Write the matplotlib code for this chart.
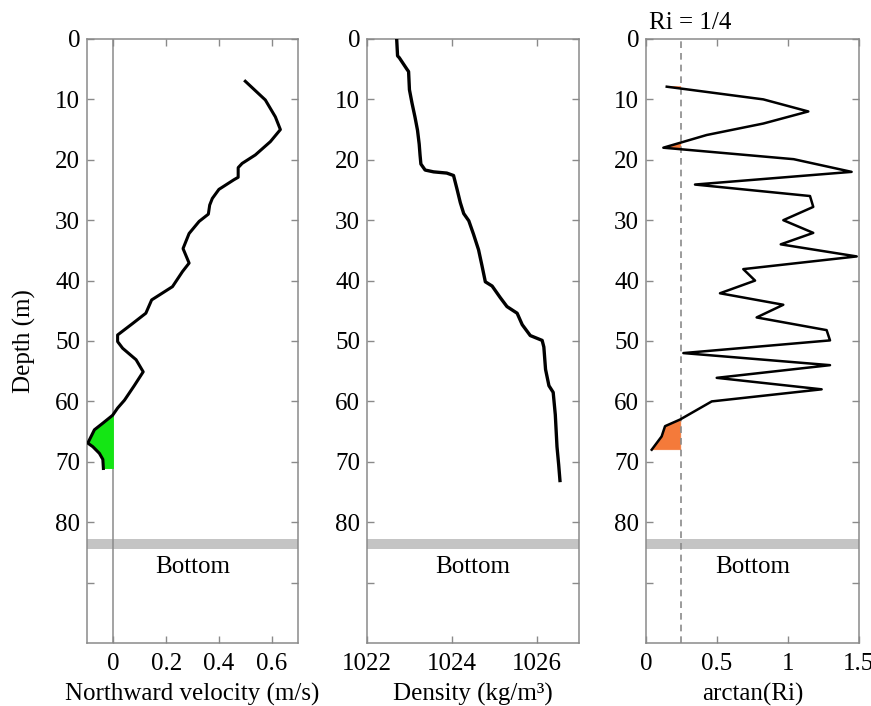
import numpy as np
import matplotlib
matplotlib.use("Agg")
import matplotlib.pyplot as plt

plt.rcParams['font.family'] = ['Liberation Serif', 'DejaVu Serif']
plt.rcParams['font.size'] = 18

# northward velocity profile
vel_depth = [7, 10.1, 12.9, 15.0, 17, 19.2, 20.6, 21.3, 22.9, 23.3, 24.9, 26.4, 27.5, 29,
             30.2, 32.2, 34.7, 37.1, 38.5, 41, 43.2, 45.4, 47.1, 49, 50.1, 51.2, 53.1,
             55.1, 57.4, 59.8, 61.1, 62.3, 63.6, 64.7, 66.9, 67.5, 68.6, 69.6, 71.1]
vel = [0.50, 0.576, 0.614, 0.633, 0.595, 0.538, 0.488, 0.473, 0.473, 0.457, 0.40, 0.375,
       0.365, 0.36, 0.325, 0.287, 0.264, 0.287, 0.262, 0.224, 0.145, 0.123, 0.073, 0.016,
       0.016, 0.035, 0.086, 0.113, 0.079, 0.042, 0.016, -0.003, -0.04, -0.072, -0.097,
       -0.078, -0.053, -0.04, -0.038]

# density profile
rho_depth = [0.15, 2.8, 3.1, 5.0, 5.4, 8.4, 10.6, 12.9, 15.1, 17.4, 19.2, 20.7, 21.7, 22.0,
             22.2, 22.6, 24.8, 27.1, 28.9, 30.1, 32.3, 34.9, 37.5, 40.2, 40.9, 42.8, 44.3,
             45.4, 47.3, 49.1, 49.9, 51.0, 54.7, 57.4, 58.5, 62.2, 67.5, 70.5, 73.1]
rho = [1022.70, 1022.72, 1022.76, 1022.94, 1022.98, 1023.00, 1023.06, 1023.13, 1023.19,
       1023.23, 1023.25, 1023.27, 1023.37, 1023.57, 1023.88, 1024.04, 1024.12, 1024.20,
       1024.28, 1024.40, 1024.51, 1024.63, 1024.71, 1024.79, 1024.95, 1025.14, 1025.30,
       1025.54, 1025.66, 1025.85, 1026.13, 1026.17, 1026.21, 1026.29, 1026.39, 1026.44,
       1026.48, 1026.52, 1026.55]

# arctan of Richardson number
ri_depth = [7.9, 10.0, 12.0, 14.0, 15.9, 18.0, 19.9, 22.0, 24.1, 26.0, 27.8, 30.0, 32.1,
            34.0, 36.0, 38.1, 40.0, 42.1, 44.0, 46.1, 48.2, 49.9, 52.0, 54.0, 56.1, 58.0,
            60.0, 63.0, 64.1, 65.8, 68.0]
ri_atan = [0.146, 0.826, 1.143, 0.826, 0.427, 0.122, 1.04, 1.448, 0.345, 1.155, 1.178,
           0.967, 1.178, 0.949, 1.484, 0.685, 0.768, 0.521, 0.967, 0.779, 1.272, 1.296,
           0.263, 1.296, 0.498, 1.237, 0.463, 0.24, 0.134, 0.11, 0.04]
ri_crit = np.arctan(0.25)

depth_ticks = list(range(0, 100, 10))
depth_labels = [str(t) if t <= 80 else '' for t in depth_ticks]

gray = '#8a8a8a'

fig = plt.figure(figsize=(8.71, 7.06), dpi=100)
lefts = [0.0999, 0.4214, 0.7417]
widths = [0.2423, 0.2434, 0.2445]
axes = [fig.add_axes([l, 0.0892, w, 0.8556]) for l, w in zip(lefts, widths)]

for ax in axes:
    ax.set_ylim(100, 0)
    ax.set_yticks(depth_ticks)
    ax.set_yticklabels(depth_labels)
    ax.axhspan(82.8, 84.5, color='#c4c4c4', lw=0, zorder=1)
    ax.text(0.5, 87.4, 'Bottom', ha='center', va='center',
            transform=ax.get_yaxis_transform())
    for s in ax.spines.values():
        s.set_color(gray)
        s.set_linewidth(1.1)
    ax.tick_params(direction='in', top=True, right=True, length=5, width=1.0,
                   color=gray, labelsize=18)
    ax.tick_params(axis='x', pad=7)
    ax.tick_params(axis='y', pad=5)

ax1, ax2, ax3 = axes

ax1.set_xlim(-0.1, 0.7)
ax1.set_xticks([0, 0.2, 0.4, 0.6])
ax1.set_xticklabels(['0', '0.2', '0.4', '0.6'])
ax1.axvline(0, color=gray, lw=1.1, zorder=1)
v = np.array(vel)
ax1.fill_betweenx(vel_depth, v, 0, where=v <= 0, interpolate=True,
                  color='#14e614', lw=0, zorder=2)
ax1.plot(vel, vel_depth, color='black', lw=2.2, zorder=3)
ax1.set_xlabel('Northward velocity (m/s)', labelpad=6)
ax1.set_ylabel('Depth (m)', labelpad=14)

ax2.set_xlim(1022, 1027)
ax2.set_xticks([1022, 1024, 1026])
ax2.plot(rho, rho_depth, color='black', lw=2.4, zorder=3)
ax2.set_xlabel('Density (kg/m³)', labelpad=6)

ax3.set_xlim(0, 1.5)
ax3.set_xticks([0, 0.5, 1, 1.5])
ax3.set_xticklabels(['0', '0.5', '1', '1.5'])
a = np.array(ri_atan)
ax3.fill_betweenx(ri_depth, a, ri_crit, where=a <= ri_crit, interpolate=True,
                  color='#f47a3a', lw=0.5, ec='#f47a3a', zorder=2)
ax3.axvline(ri_crit, color=gray, lw=1.2, ls=(0, (4, 3)), zorder=2.5)
ax3.plot(ri_atan, ri_depth, color='black', lw=1.8, zorder=3)
ax3.set_xlabel('arctan(Ri)', labelpad=6)
ax3.text(0.31, -2.7, 'Ri = 1/4', ha='center', va='center', clip_on=False)

fig.savefig('out.png', dpi=100)
